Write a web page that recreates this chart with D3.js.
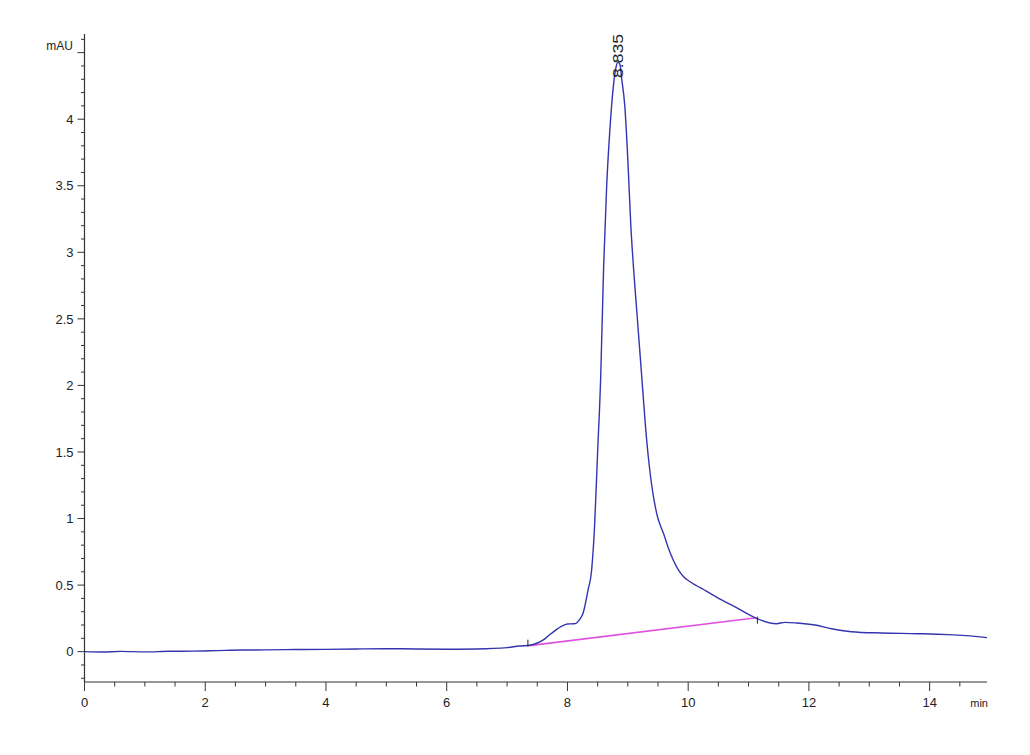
<!DOCTYPE html>
<html>
<head>
<meta charset="utf-8">
<script src="https://cdn.jsdelivr.net/npm/d3@7"></script>
<style>
  html, body { margin: 0; padding: 0; background: #ffffff; }
  svg text { font-family: "Liberation Sans", Arial, sans-serif; fill: #222; }
</style>
</head>
<body>
<svg id="chart" width="1030" height="755"></svg>
<script>
// ---- data ----
const timeMin = [0, 0.3, 0.6, 1.0, 1.4, 1.8, 2.2, 2.6, 3.0, 3.5, 4.0, 4.5, 5.0, 5.5, 6.0, 6.5, 7.0, 7.2, 7.4, 7.5, 7.6, 7.7, 7.8, 7.9, 8.0, 8.1, 8.15, 8.2, 8.26, 8.34, 8.4, 8.45, 8.5, 8.55, 8.6, 8.65, 8.7, 8.75, 8.8, 8.835, 8.87, 8.9, 8.95, 9.0, 9.05, 9.1, 9.15, 9.2, 9.25, 9.31, 9.37, 9.45, 9.5, 9.55, 9.59, 9.67, 9.75, 9.83, 9.92, 10.03, 10.14, 10.3, 10.47, 10.8, 11.13, 11.46, 11.6, 11.8, 12.1, 12.4, 12.7, 13.2, 13.8, 14.3, 14.6, 14.95];
const absorbance = [0.0, -0.003, 0.002, -0.002, 0.003, 0.004, 0.008, 0.012, 0.013, 0.016, 0.017, 0.02, 0.022, 0.02, 0.018, 0.02, 0.03, 0.042, 0.05, 0.065, 0.088, 0.125, 0.16, 0.19, 0.208, 0.21, 0.215, 0.24, 0.29, 0.46, 0.61, 0.95, 1.5, 2.05, 2.9, 3.5, 3.9, 4.2, 4.38, 4.43, 4.41, 4.3, 4.1, 3.7, 3.2, 2.85, 2.55, 2.25, 1.95, 1.6, 1.34, 1.1, 1.0, 0.935, 0.89, 0.78, 0.69, 0.62, 0.565, 0.525, 0.495, 0.455, 0.41, 0.33, 0.25, 0.21, 0.22, 0.215, 0.2, 0.17, 0.15, 0.14, 0.135, 0.128, 0.12, 0.105];
const baselineTime = [7.37, 11.13];
const baselineValue = [0.045, 0.255];
const peakTime = 8.835;
const peakLabel = "8.835";
const yTickLabels = [0, 0.5, 1, 1.5, 2, 2.5, 3, 3.5, 4];
const xTickLabels = [0, 2, 4, 6, 8, 10, 12, 14];
const yUnit = "mAU";
const xUnit = "min";

// ---- layout ----
const svg = d3.select("#chart");
const x = d3.scaleLinear().domain([0, 14.95]).range([84.5, 987]);
const y = d3.scaleLinear().domain([-0.228, 4.64]).range([682, 34]);
const axisColor = "#333";

// y axis
const gY = svg.append("g");
gY.append("line").attr("x1", x(0)).attr("x2", x(0)).attr("y1", y(-0.228)).attr("y2", y(4.64))
  .attr("stroke", axisColor).attr("stroke-width", 1.2);
const yMinor = d3.range(-2, 47).map(d => d / 10);
gY.selectAll(".ymin").data(yMinor).enter().append("line")
  .attr("x1", x(0)).attr("x2", d => (Math.abs(d * 2 - Math.round(d * 2)) < 1e-6) ? x(0) - 7 : x(0) - 3.5)
  .attr("y1", d => y(d)).attr("y2", d => y(d))
  .attr("stroke", axisColor).attr("stroke-width", 1);
gY.selectAll(".ylab").data(yTickLabels).enter().append("text")
  .attr("x", x(0) - 11).attr("y", d => y(d)).attr("dy", "0.36em")
  .attr("text-anchor", "end").attr("font-size", 13).text(d => d);
gY.append("text").attr("x", 73).attr("y", 50).attr("text-anchor", "end")
  .attr("font-size", 12).text(yUnit);

// x axis
const gX = svg.append("g");
gX.append("line").attr("x1", x(0)).attr("x2", x(14.95)).attr("y1", y(-0.228)).attr("y2", y(-0.228))
  .attr("stroke", axisColor).attr("stroke-width", 1.2);
const xMinor = d3.range(0, 30).map(d => d / 2);
gX.selectAll(".xmin").data(xMinor).enter().append("line")
  .attr("x1", d => x(d)).attr("x2", d => x(d))
  .attr("y1", y(-0.228)).attr("y2", d => (d % 2 === 0) ? y(-0.228) + 9 : y(-0.228) + 4.5)
  .attr("stroke", axisColor).attr("stroke-width", 1);
gX.selectAll(".xlab").data(xTickLabels).enter().append("text")
  .attr("x", d => x(d)).attr("y", 707).attr("text-anchor", "middle")
  .attr("font-size", 13).text(d => d);
gX.append("text").attr("x", 988).attr("y", 707).attr("text-anchor", "end")
  .attr("font-size", 11).text(xUnit);

// baseline (integration)
const bl = baselineTime.map((t, i) => [t, baselineValue[i]]);
svg.append("path").datum(bl)
  .attr("d", d3.line().x(d => x(d[0])).y(d => y(d[1])))
  .attr("stroke", "#e050e0").attr("stroke-width", 1.6).attr("fill", "none");

// chromatogram
const pts = timeMin.map((t, i) => [t, absorbance[i]]);
svg.append("path").datum(pts)
  .attr("d", d3.line().x(d => x(d[0])).y(d => y(d[1])).curve(d3.curveMonotoneX))
  .attr("stroke", "#3434b0").attr("stroke-width", 1.4).attr("fill", "none");

// integration markers
svg.append("line").attr("x1", x(baselineTime[0]) - 1.5).attr("x2", x(baselineTime[0]) - 1.5)
  .attr("y1", y(baselineValue[0]) - 6).attr("y2", y(baselineValue[0]) + 1)
  .attr("stroke", "#222").attr("stroke-width", 1);
svg.append("line").attr("x1", x(baselineTime[1]) + 1).attr("x2", x(baselineTime[1]) + 1)
  .attr("y1", y(baselineValue[1]) - 1).attr("y2", y(baselineValue[1]) + 6)
  .attr("stroke", "#222").attr("stroke-width", 1);

// peak label
const peakTop = absorbance[timeMin.indexOf(peakTime)];
svg.append("text")
  .attr("transform", `translate(${x(peakTime) + 5},${y(peakTop) + 16}) rotate(-90)`)
  .attr("font-size", 14).attr("text-anchor", "start")
  .attr("textLength", 44).attr("lengthAdjust", "spacingAndGlyphs").text(peakLabel);
</script>
</body>
</html>
